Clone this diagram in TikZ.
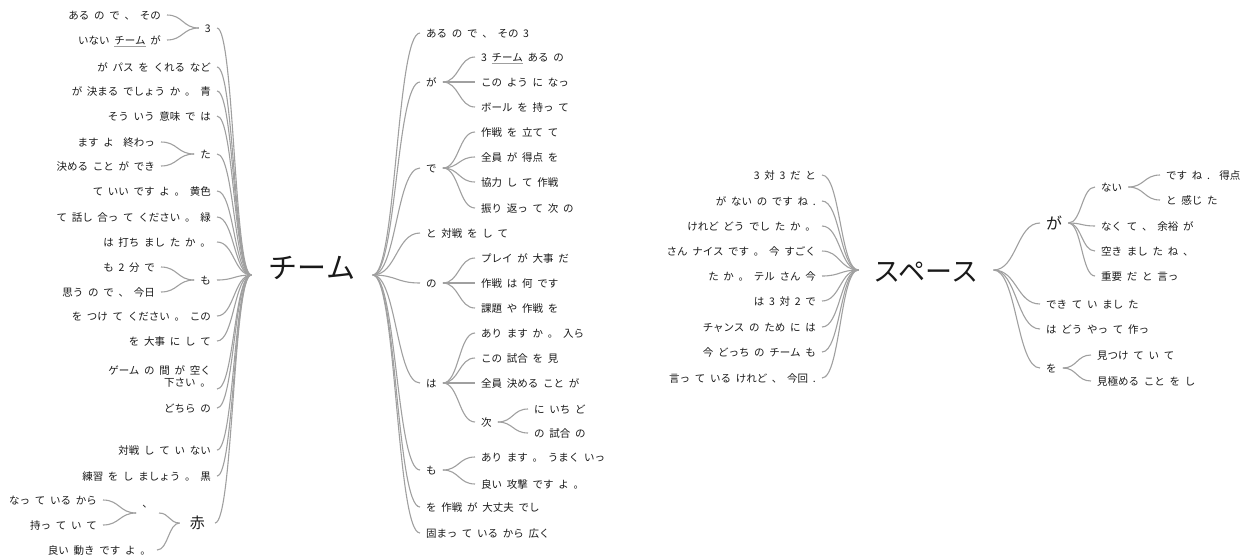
\documentclass[tikz,border=0pt]{standalone}
\usepackage{fontspec}
\usetikzlibrary{calc}
\newfontfamily\jp[WordSpace=2]{Noto Sans CJK JP}
\definecolor{lg}{RGB}{160,160,160}
\definecolor{tx}{RGB}{25,25,25}
\newcommand\ulj[1]{\textcolor{lg}{\underline{\textcolor{tx}{#1}}}}
\newcommand\cnx[2]{\draw[conn] let \p1=(#1), \p2=(#2) in (\p1) .. controls ({(\x1+\x2)/2},\y1) and ({(\x1+\x2)/2},\y2) .. (\p2);}
\begin{document}
\begin{tikzpicture}[x=1pt,y=-1pt,
  txt/.style={font=\jp\fontsize{10.5}{12}\selectfont, text=tx, inner ysep=1pt, inner xsep=6pt, text height=8.2pt, text depth=0.2pt},
  ln/.style={txt, anchor=east},
  rn/.style={txt, anchor=west},
  ln2/.style={font=\jp\fontsize{10.5}{12}\selectfont, text=tx, inner ysep=1pt, inner xsep=6pt, align=right, anchor=south east},
  big/.style={font=\jp\fontsize{15}{17}\selectfont, text height=11.7pt, text depth=0.3pt},
  mid/.style={font=\jp\fontsize{16}{18}\selectfont, text height=12.5pt, text depth=0.3pt},
  conn/.style={draw=lg, line width=1.1pt},
]
\path[use as bounding box] (0,0) rectangle (1259,558);

% roots
\node[font=\jp\fontsize{29}{32}\selectfont, text=tx, inner xsep=17.5pt, inner ysep=0pt, text height=10pt, text depth=4pt] (team) at (312,275) {チーム};
\node[font=\jp\fontsize{27}{30}\selectfont, text=tx, inner xsep=15pt, inner ysep=0pt, text height=22.6pt, text depth=0pt] (space) at (926,270) {スペース};

% left of team
\node[ln] (l1) at (217,28) {3};
\node[ln] (l1a) at (167,15) {ある の で 、 その};
\node[ln] (l1b) at (167,40) {いない \ulj{チーム} が};
\node[ln] (l2) at (217,67) {が パス を くれる など};
\node[ln] (l3) at (217,91) {が 決まる でしょう か 。 青};
\node[ln] (l4) at (217,116) {そう いう 意味 で は};
\node[ln] (l5) at (217,154) {た};
\node[ln] (l5a) at (161,142) {ます よ\ \ 終わっ};
\node[ln] (l5b) at (161,166) {決める こと が でき};
\node[ln] (l6) at (217,191) {て いい です よ 。 黄色};
\node[ln] (l7) at (217,217) {て 話し 合っ て ください 。 緑};
\node[ln] (l8) at (217,242) {は 打ち まし た か 。};
\node[ln] (l9) at (217,280) {も};
\node[ln] (l9a) at (161,267) {も 2 分 で};
\node[ln] (l9b) at (161,292) {思う の で 、 今日};
\node[ln] (l10) at (217,316) {を つけ て ください 。 この};
\node[ln] (l11) at (217,341) {を 大事 に し て};
\node[ln2] (l12) at (217,389) {ゲーム の 間 が 空く\\下さい 。};
\node[ln] (l13) at (217,408) {どちら の};
\node[ln] (l14) at (217,450) {対戦 し て い ない};
\node[ln] (l15) at (217,476) {練習 を し ましょう 。 黒};
\node[ln,big,inner xsep=10pt] (l16) at (215,523) {赤};
\node[ln,text height=0pt,text depth=11pt] (l16a) at (159,513) {、};
\node[ln] (l16a1) at (103,500) {なっ て いる から};
\node[ln] (l16a2) at (103,525) {持っ て い て};
\node[ln] (l16b) at (157,550) {良い 動き です よ 。};

% right of team
\node[rn] (r1) at (420,33) {ある の で 、 その 3};
\node[rn] (r2) at (420,82) {が};
\node[rn] (r2a) at (475,57) {3 \ulj{チーム} ある の};
\node[rn] (r2b) at (475,82) {この よう に なっ};
\node[rn] (r2c) at (475,107) {ボール を 持っ て};
\node[rn] (r3) at (420,168) {で};
\node[rn] (r3a) at (475,132) {作戦 を 立て て};
\node[rn] (r3b) at (475,157) {全員 が 得点 を};
\node[rn] (r3c) at (475,182) {協力 し て 作戦};
\node[rn] (r3d) at (475,208) {振り 返っ て 次 の};
\node[rn] (r4) at (420,233) {と 対戦 を し て};
\node[rn] (r5) at (420,283) {の};
\node[rn] (r5a) at (475,258) {プレイ が 大事 だ};
\node[rn] (r5b) at (475,283) {作戦 は 何 です};
\node[rn] (r5c) at (475,308) {課題 や 作戦 を};
\node[rn] (r6) at (420,383) {は};
\node[rn] (r6a) at (475,333) {あり ます か 。 入ら};
\node[rn] (r6b) at (475,358) {この 試合 を 見};
\node[rn] (r6c) at (475,383) {全員 決める こと が};
\node[rn] (r6d) at (475,422) {次};
\node[rn] (r6d1) at (528,409) {に いち ど};
\node[rn] (r6d2) at (528,433) {の 試合 の};
\node[rn] (r7) at (420,470) {も};
\node[rn] (r7a) at (475,457) {あり ます 。 うまく いっ};
\node[rn] (r7b) at (475,484) {良い 攻撃 です よ 。};
\node[rn] (r8) at (420,507) {を 作戦 が 大丈夫 でし};
\node[rn] (r9) at (420,533) {固まっ て いる から 広く};

% left of space
\node[ln] (s1) at (822,175) {3 対 3 だ と};
\node[ln] (s2) at (822,201) {が ない の です ね .};
\node[ln] (s3) at (822,226) {けれど どう でし た か 。};
\node[ln] (s4) at (822,251) {さん ナイス です 。 今 すごく};
\node[ln] (s5) at (822,276) {た か 。 テル さん 今};
\node[ln] (s6) at (822,301) {は 3 対 2 で};
\node[ln] (s7) at (822,327) {チャンス の ため に は};
\node[ln] (s8) at (822,352) {今 どっち の チーム も};
\node[ln] (s9) at (822,378) {言っ て いる けれど 、 今回 .};

% right of space
\node[rn,mid] (t1) at (1040,223) {が};
\node[rn] (t1a) at (1095,187) {ない};
\node[rn] (t1a1) at (1160,175) {です ね .\ \ 得点};
\node[rn] (t1a2) at (1160,200) {と 感じ た};
\node[rn] (t1b) at (1095,226) {なく て 、 余裕 が};
\node[rn] (t1c) at (1095,251) {空き まし た ね 、};
\node[rn] (t1d) at (1095,276) {重要 だ と 言っ};
\node[rn] (t2) at (1040,304) {でき て い まし た};
\node[rn] (t3) at (1040,329) {は どう やっ て 作っ};
\node[rn] (t4) at (1040,368) {を};
\node[rn] (t4a) at (1091,355) {見つけ て い て};
\node[rn] (t4b) at (1091,381) {見極める こと を し};

% connectors
\foreach \c in {l1,l2,l3,l4,l5,l6,l7,l8,l9,l10,l11,l13,l14,l15,l16} {\cnx{team.west}{\c.east}}
\cnx{team.west}{l12.south east}
\cnx{l1.west}{l1a.east} \cnx{l1.west}{l1b.east}
\cnx{l5.west}{l5a.east} \cnx{l5.west}{l5b.east}
\cnx{l9.west}{l9a.east} \cnx{l9.west}{l9b.east}
\cnx{l16.west}{l16a.east} \cnx{l16.west}{l16b.east}
\cnx{l16a.west}{l16a1.east} \cnx{l16a.west}{l16a2.east}

\foreach \c in {r1,r2,r3,r4,r5,r6,r7,r8,r9} {\cnx{team.east}{\c.west}}
\foreach \c in {r2a,r2b,r2c} {\cnx{r2.east}{\c.west}}
\foreach \c in {r3a,r3b,r3c,r3d} {\cnx{r3.east}{\c.west}}
\foreach \c in {r5a,r5b,r5c} {\cnx{r5.east}{\c.west}}
\foreach \c in {r6a,r6b,r6c,r6d} {\cnx{r6.east}{\c.west}}
\foreach \c in {r6d1,r6d2} {\cnx{r6d.east}{\c.west}}
\foreach \c in {r7a,r7b} {\cnx{r7.east}{\c.west}}

\foreach \c in {s1,s2,s3,s4,s5,s6,s7,s8,s9} {\cnx{space.west}{\c.east}}
\foreach \c in {t1,t2,t3,t4} {\cnx{space.east}{\c.west}}
\foreach \c in {t1a,t1b,t1c,t1d} {\cnx{t1.east}{\c.west}}
\foreach \c in {t1a1,t1a2} {\cnx{t1a.east}{\c.west}}
\foreach \c in {t4a,t4b} {\cnx{t4.east}{\c.west}}
\end{tikzpicture}
\end{document}
